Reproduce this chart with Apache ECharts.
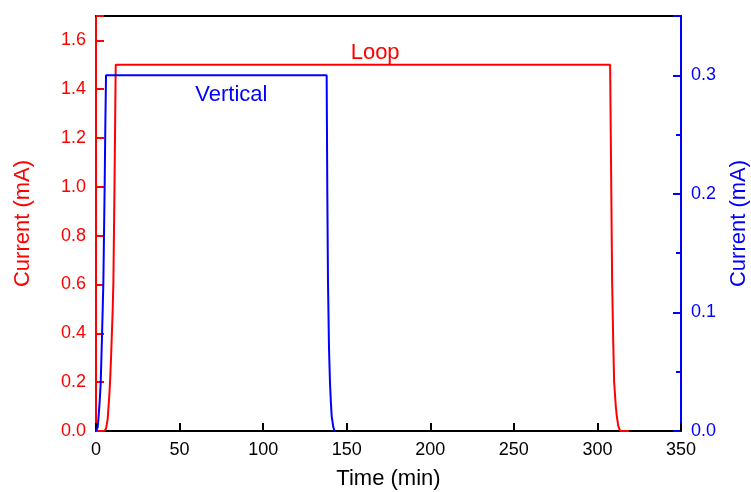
<!DOCTYPE html>
<html><head><meta charset="utf-8">
<script src="https://cdn.jsdelivr.net/npm/echarts@6/dist/echarts.min.js"></script>
<style>html,body{margin:0;padding:0;background:#fff}#c{width:751px;height:492px}</style>
</head><body><div id="c"></div>
<script>
const loopTime    = [0, 5, 6, 7, 8, 8.4, 9, 10, 10.4, 11.1, 11.5, 11.8, 307.6, 308, 308.8, 309.5, 310, 311, 311.6, 312.5, 313.6, 319];
const loopCurrent = [0, 0, 0.01, 0.05, 0.15, 0.2, 0.3, 0.5, 0.61, 1.02, 1.3, 1.5, 1.5, 1.2, 0.61, 0.35, 0.2, 0.1, 0.06, 0.02, 0, 0];
const vertTime    = [0, 1, 1.6, 2.2, 2.8, 3.6, 4.4, 5.2, 5.6, 6, 138, 138.4, 138.8, 139.4, 140, 140.5, 141, 142, 142.8];
const vertCurrent = [0, 0.003, 0.013, 0.025, 0.04, 0.08, 0.125, 0.209, 0.26, 0.3, 0.3, 0.2, 0.125, 0.07, 0.04, 0.025, 0.0126, 0.003, 0];
const xTicks = [0, 50, 100, 150, 200, 250, 300, 350];
const leftTicks = [0, 0.2, 0.4, 0.6, 0.8, 1.0, 1.2, 1.4, 1.6];
const rightTicks = [0, 0.1, 0.2, 0.3];
const loopName = 'Loop', vertName = 'Vertical';

const RED = '#ff0000', BLUE = '#0000ff';
const font = 'Liberation Sans, Arial, sans-serif';
const chart = echarts.init(document.getElementById('c'));
chart.setOption({
  animation: false,
  grid: { left: 96, right: 70, top: 16, bottom: 61, containLabel: false, outerBoundsMode: 'none' },
  xAxis: [{
    type: 'value', min: 0, max: 350, interval: 50,
    name: 'Time (min)', nameLocation: 'middle', nameGap: 37,
    nameTextStyle: { color: '#000', fontSize: 22, fontFamily: font },
    axisLine: { onZero: false, lineStyle: { color: '#000', width: 2 } },
    axisTick: { inside: true, length: 8, lineStyle: { color: '#000', width: 2 } },
    axisLabel: { color: '#000', fontSize: 18, fontFamily: font, margin: 10 },
    splitLine: { show: false }
  }, {
    type: 'value', min: 0, max: 350, position: 'top',
    axisLine: { show: true, onZero: false, lineStyle: { color: '#000', width: 2 } },
    axisTick: { show: false }, axisLabel: { show: false }, splitLine: { show: false }
  }],
  yAxis: [{
    type: 'value', min: 0, max: 1.7, interval: 0.2, position: 'left',
    name: 'Current (mA)', nameLocation: 'middle', nameGap: 62, nameRotate: 90,
    nameTextStyle: { color: RED, fontSize: 22, fontFamily: font },
    axisLine: { show: true, onZero: false, lineStyle: { color: RED, width: 2 } },
    axisTick: { show: true, inside: true, length: 8, lineStyle: { color: RED, width: 2 } },
    axisLabel: { color: RED, fontSize: 18, fontFamily: font, margin: 10,
      formatter: v => leftTicks.some(t => Math.abs(t - v) < 1e-6) ? v.toFixed(1) : '' },
    splitLine: { show: false }
  }, {
    type: 'value', min: 0, max: 0.35, interval: 0.1, position: 'right',
    name: 'Current (mA)', nameLocation: 'middle', nameGap: 47, nameRotate: 90,
    nameTextStyle: { color: BLUE, fontSize: 22, fontFamily: font },
    axisLine: { show: true, onZero: false, lineStyle: { color: BLUE, width: 2 } },
    axisTick: { show: true, inside: true, length: 8, lineStyle: { color: BLUE, width: 2 } },
    minorTick: { show: true, splitNumber: 2, length: 5, lineStyle: { color: BLUE, width: 2 } },
    axisLabel: { color: BLUE, fontSize: 18, fontFamily: font, margin: 10,
      formatter: v => rightTicks.some(t => Math.abs(t - v) < 1e-6) ? v.toFixed(1) : '' },
    splitLine: { show: false }
  }],
  series: [{
    name: loopName, type: 'line', xAxisIndex: 0, yAxisIndex: 0, showSymbol: false,
    lineStyle: { color: RED, width: 2 }, itemStyle: { color: RED },
    data: loopTime.map((t, i) => [t, loopCurrent[i]]),
    markPoint: { symbol: 'rect', symbolSize: 1, itemStyle: { color: 'transparent' },
      label: { show: true, formatter: loopName, color: RED, fontSize: 22, fontFamily: font, position: 'top', distance: 0 },
      data: [{ coord: [167, 1.5] }] }
  }, {
    name: vertName, type: 'line', xAxisIndex: 0, yAxisIndex: 1, showSymbol: false,
    lineStyle: { color: BLUE, width: 2 }, itemStyle: { color: BLUE },
    data: vertTime.map((t, i) => [t, vertCurrent[i]]),
    markPoint: { symbol: 'rect', symbolSize: 1, itemStyle: { color: 'transparent' },
      label: { show: true, formatter: vertName, color: BLUE, fontSize: 22, fontFamily: font, position: 'bottom', distance: 8 },
      data: [{ coord: [81, 0.3] }] }
  }]
});
</script></body></html>
